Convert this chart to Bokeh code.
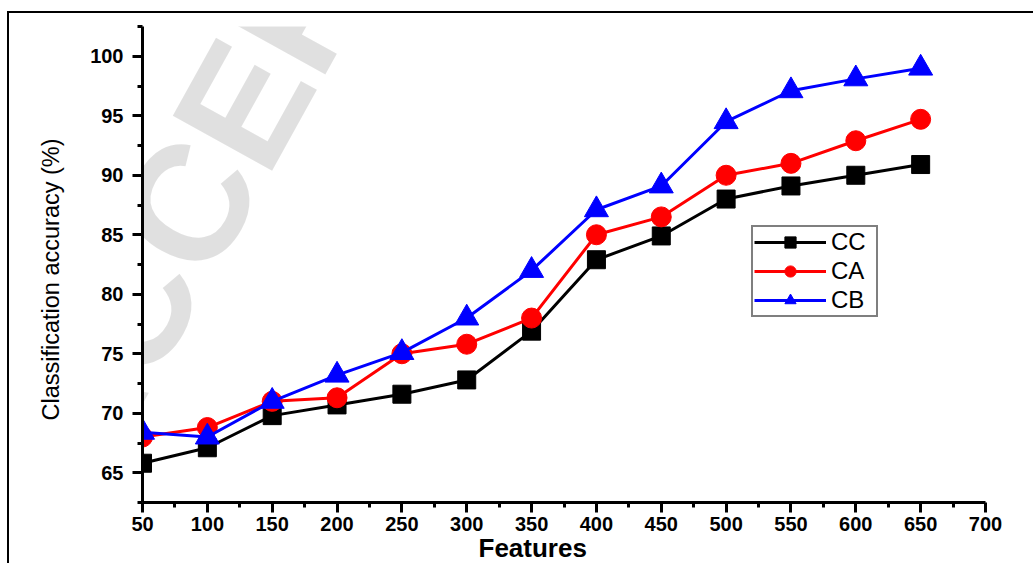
from bokeh.plotting import figure
from bokeh.models import Range1d, FixedTicker, Legend, LegendItem, Label, Title
from bokeh.embed import file_html
from bokeh.resources import INLINE

# ---- data ----
features = [50, 100, 150, 200, 250, 300, 350, 400, 450, 500, 550, 600, 650]
cc = [65.8, 67.1, 69.8, 70.7, 71.6, 72.8, 76.9, 82.9, 84.9, 88.0, 89.1, 90.0, 90.9]
ca = [68.0, 68.8, 71.0, 71.3, 75.0, 75.8, 78.0, 85.0, 86.5, 90.0, 91.0, 92.9, 94.7]
cb = [68.4, 68.0, 71.0, 73.2, 75.1, 78.0, 82.0, 87.1, 89.1, 94.5, 97.1, 98.1, 99.0]
series_names = ["CC", "CA", "CB"]
x_ticks = [50, 100, 150, 200, 250, 300, 350, 400, 450, 500, 550, 600, 650, 700]
y_ticks = [65, 70, 75, 80, 85, 90, 95, 100]
x_label = "Features"
y_label = "Classification accuracy (%)"
watermark = "ACCEPTED"

FONT = "Liberation Sans"

p = figure(width=1026, height=552,
           x_range=Range1d(50, 700), y_range=Range1d(62.5, 102.5),
           output_backend="svg", toolbar_location=None,
           min_border_left=133, min_border_right=50,
           min_border_top=13, min_border_bottom=63)
p.styles = {"border-left": "2px solid black", "border-top": "2px solid black",
            "margin-top": "11px", "margin-left": "7px"}
p.outline_line_color = None
p.xgrid.visible = False
p.ygrid.visible = False
p.background_fill_color = "white"
p.border_fill_color = "white"

# axes
x_minor = [(a + b) / 2 for a, b in zip(x_ticks[:-1], x_ticks[1:])]
y_minor = [62.5] + [t + 2.5 for t in y_ticks]
p.xaxis.ticker = FixedTicker(ticks=x_ticks, minor_ticks=x_minor)
p.yaxis.ticker = FixedTicker(ticks=y_ticks, minor_ticks=y_minor)

for ax in (p.xaxis[0], p.yaxis[0]):
    ax.axis_line_width = 3
    ax.axis_line_color = "black"
    ax.major_tick_line_width = 3
    ax.minor_tick_line_width = 3
    ax.major_tick_line_color = "black"
    ax.minor_tick_line_color = "black"
    ax.major_tick_out = 10
    ax.major_tick_in = 0
    ax.minor_tick_out = 5
    ax.minor_tick_in = 0
    ax.major_label_text_font = FONT
    ax.major_label_text_font_style = "bold"
    ax.major_label_text_font_size = "20px"
    ax.major_label_text_color = "black"

p.xaxis.major_label_standoff = 4
p.yaxis.major_label_standoff = 9

# axis titles as side-panel titles (allow exact placement)
p.add_layout(Title(text=x_label, align="left", offset=336,
                   vertical_align="top", standoff=-2,
                   text_font=FONT, text_font_size="26px",
                   text_font_style="bold", text_color="black"), "below")
p.add_layout(Title(text=y_label, align="left", offset=82,
                   vertical_align="bottom", standoff=48,
                   text_font=FONT, text_font_size="23.5px",
                   text_font_style="normal", text_color="black"), "left")

# watermark (faint, multiplied over the chart)
p.add_layout(Label(x=-99, y=37, x_units="screen", y_units="screen",
                   text=watermark, angle=61, angle_units="deg",
                   text_font=FONT, text_font_size="165px",
                   text_font_style="bold", text_color="black",
                   text_alpha=0.12, text_align="left",
                   text_baseline="alphabetic"))

# series
items = []
specs = [(cc, "black", "square", 18),
         (ca, "#ff0000", "circle", 20),
         (cb, "#0000ff", "triangle", 24)]
for name, (vals, col, marker, size) in zip(series_names, specs):
    ln = p.line(features, vals, line_color=col, line_width=3)
    sc = p.scatter(features, vals, marker=marker, size=size,
                   fill_color=col, line_color=col, line_width=1)
    items.append(LegendItem(label=name, renderers=[ln, sc]))

legend = Legend(items=items, location=(609, 185))
legend.border_line_color = "black"
legend.border_line_width = 2
legend.background_fill_color = "white"
legend.background_fill_alpha = 1
legend.label_text_font = FONT
legend.label_text_font_size = "24px"
legend.label_text_color = "black"
legend.padding = 1
legend.spacing = 1
legend.margin = 0
legend.glyph_width = 72
legend.glyph_height = 28
legend.label_height = 28
legend.label_width = 44
legend.label_standoff = 5
p.add_layout(legend)

open("out.html", "w").write(file_html(p, INLINE))
